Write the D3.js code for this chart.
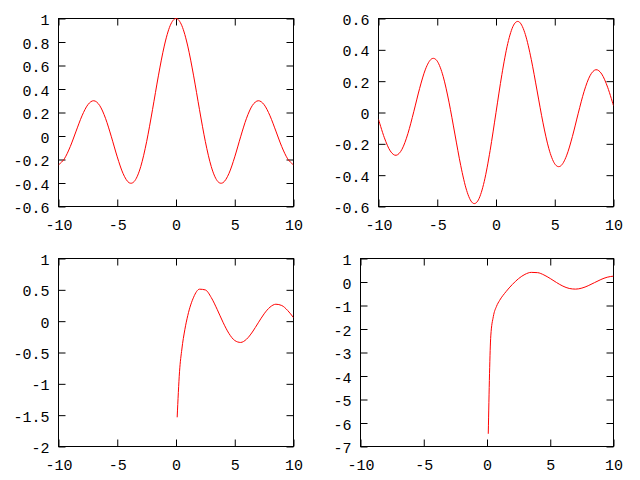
<!DOCTYPE html>
<html><head><meta charset="utf-8">
<script src="https://cdn.jsdelivr.net/npm/d3@7"></script>
<style>body{margin:0;background:#fff}svg{display:block}</style>
</head><body>
<svg id="c" width="640" height="480"></svg>
<script>
// ---- data ----
const xFull = [-10,-9.5,-9,-8.5,-8,-7.5,-7,-6.5,-6,-5.5,-5,-4.5,-4,-3.5,-3,-2.5,-2,-1.5,-1,-0.5,0,
               0.5,1,1.5,2,2.5,3,3.5,4,4.5,5,5.5,6,6.5,7,7.5,8,8.5,9,9.5,10];
const j0Values = [-0.2459,-0.1939,-0.0903,0.0419,0.1717,0.2663,0.3001,0.2601,0.1506,-0.0068,-0.1776,-0.3205,-0.3971,-0.3801,-0.2601,-0.0484,0.2239,0.5118,0.7652,0.9385,1,
                  0.9385,0.7652,0.5118,0.2239,-0.0484,-0.2601,-0.3801,-0.3971,-0.3205,-0.1776,-0.0068,0.1506,0.2601,0.3001,0.2663,0.1717,0.0419,-0.0903,-0.1939,-0.2459];
const j1Values = [-0.0435,-0.1613,-0.2453,-0.2731,-0.2346,-0.1352,0.0047,0.1538,0.2767,0.3414,0.3276,0.2311,0.0660,-0.1374,-0.3391,-0.4971,-0.5767,-0.5579,-0.4401,-0.2423,0,
                  0.2423,0.4401,0.5579,0.5767,0.4971,0.3391,0.1374,-0.0660,-0.2311,-0.3276,-0.3414,-0.2767,-0.1538,-0.0047,0.1352,0.2346,0.2731,0.2453,0.1613,0.0435];
const xPos = [0.1,0.3,0.5,0.75,1,1.5,2,2.5,3,3.5,4,4.5,5,5.5,6,6.5,7,7.5,8,8.5,9,9.5,10];
const y0Values = [-1.5342,-0.8073,-0.4445,-0.1372,0.0883,0.3824,0.5104,0.4981,0.3769,0.1890,-0.0169,-0.1947,-0.3085,-0.3395,-0.2882,-0.1732,-0.0259,0.1173,0.2235,0.2702,0.2499,0.1712,0.0557];
const y1Values = [-6.4590,-2.2931,-1.4715,-1.0375,-0.7812,-0.4123,-0.1070,0.1459,0.3247,0.4102,0.3979,0.3001,0.1479,-0.0238,-0.1750,-0.2741,-0.3027,-0.2591,-0.1581,-0.0262,0.1043,0.2032,0.2490];

const xTicks = [-10,-5,0,5,10];
const xTickLabels = ["-10","-5","0","5","10"];
const yTicksA = [1,0.8,0.6,0.4,0.2,0,-0.2,-0.4,-0.6];
const yLabelsA = ["1","0.8","0.6","0.4","0.2","0","-0.2","-0.4","-0.6"];
const yTicksB = [0.6,0.4,0.2,0,-0.2,-0.4,-0.6];
const yLabelsB = ["0.6","0.4","0.2","0","-0.2","-0.4","-0.6"];
const yTicksC = [1,0.5,0,-0.5,-1,-1.5,-2];
const yLabelsC = ["1","0.5","0","-0.5","-1","-1.5","-2"];
const yTicksD = [1,0,-1,-2,-3,-4,-5,-6,-7];
const yLabelsD = ["1","0","-1","-2","-3","-4","-5","-6","-7"];

const panels = [
  {l:58.5, r:293.5, t:18.5, b:206.5, yd:[-0.6,1], yt:yTicksA, yl:yLabelsA, xs:xFull, ys:j0Values, uniform:true},
  {l:378.5, r:613.5, t:18.5, b:206.5, yd:[-0.6,0.6], yt:yTicksB, yl:yLabelsB, xs:xFull, ys:j1Values, uniform:true},
  {l:58.5, r:293.5, t:258.5, b:446.5, yd:[-2,1], yt:yTicksC, yl:yLabelsC, xs:xPos, ys:y0Values, uniform:false},
  {l:360.5, r:613.5, t:258.5, b:446.5, yd:[-7,1], yt:yTicksD, yl:yLabelsD, xs:xPos, ys:y1Values, uniform:false}
];

const svg = d3.select("#c");
const FONT = "'Liberation Mono', 'DejaVu Sans Mono', monospace";
const FS = 15;
const TL = 7;

panels.forEach((p, i) => {
  const x = d3.scaleLinear().domain([-10,10]).range([p.l, p.r]);
  const y = d3.scaleLinear().domain(p.yd).range([p.b, p.t]);
  const g = svg.append("g");

  const style = sel => {
    sel.select(".domain").remove();
    sel.selectAll("line").attr("stroke","#000").attr("stroke-width",1);
    sel.selectAll("text").attr("font-family",FONT).attr("font-size",FS).attr("fill","#000");
  };

  g.append("g").attr("transform",`translate(0,${p.b})`)
    .call(d3.axisBottom(x).tickValues(xTicks).tickSize(-TL).tickPadding(13)
      .tickFormat((d,k)=>xTickLabels[k])).call(style);
  g.append("g").attr("transform",`translate(0,${p.t})`)
    .call(d3.axisTop(x).tickValues(xTicks).tickSize(-TL).tickFormat("")).call(style);
  const la = g.append("g").attr("transform",`translate(${p.l},0)`)
    .call(d3.axisLeft(y).tickValues(p.yt).tickSize(-TL).tickPadding(9)
      .tickFormat((d,k)=>p.yl[k])).call(style);
  la.selectAll("text").attr("dy","0.4em");
  g.append("g").attr("transform",`translate(${p.r},0)`)
    .call(d3.axisRight(y).tickValues(p.yt).tickSize(-TL).tickFormat("")).call(style);

  g.append("rect").attr("x",p.l).attr("y",p.t).attr("width",p.r-p.l).attr("height",p.b-p.t)
    .attr("fill","none").attr("stroke","#000").attr("stroke-width",1);

  const cid = "clip"+i;
  svg.append("clipPath").attr("id",cid).append("rect")
    .attr("x",p.l).attr("y",p.t-1).attr("width",p.r-p.l).attr("height",p.b-p.t+2);
  const line = d3.line().x((d,k)=>x(p.xs[k])).y(d=>y(d))
    .curve(p.uniform ? d3.curveCatmullRom.alpha(0) : d3.curveMonotoneX);
  g.append("path").datum(p.ys).attr("d",line).attr("clip-path",`url(#${cid})`)
    .attr("fill","none").attr("stroke","#ff0000").attr("stroke-width",1);
});
</script>
</body></html>
